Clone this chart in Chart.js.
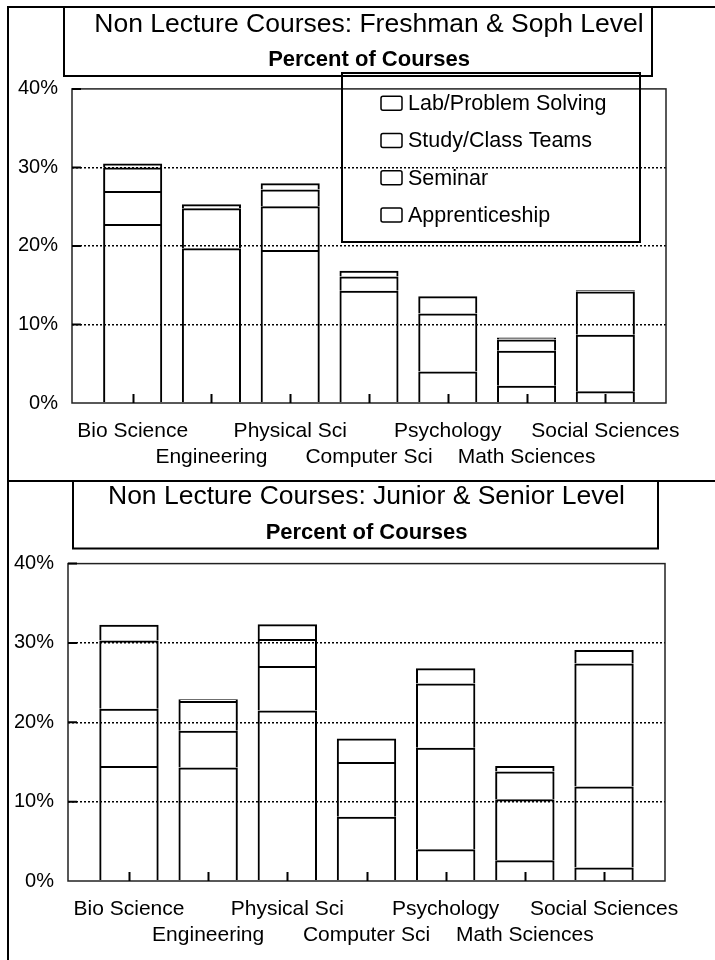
<!DOCTYPE html>
<html>
<head>
<meta charset="utf-8">
<title>Non Lecture Courses</title>
<script src="https://cdn.jsdelivr.net/npm/chart.js@4.4.1/dist/chart.umd.min.js"></script>
<style>
  html, body { margin: 0; padding: 0; background: #fff; }
  .panel { position: absolute; left: 0; width: 715px; height: 480px; }
  #upper { top: 0; }
  #lower { top: 480px; }
</style>
</head>
<body>
<div class="panel" id="upper"><canvas id="lowerDivChart"></canvas></div>
<div class="panel" id="lower"><canvas id="upperDivChart"></canvas></div>
<script>
const categories = ['Bio Science', 'Engineering', 'Physical Sci', 'Computer Sci', 'Psychology', 'Math Sciences', 'Social Sciences'];
const seriesNames = ['Lab/Problem Solving', 'Study/Class Teams', 'Seminar', 'Apprenticeship'];

// freshman & sophomore level, percent of courses
const fsLab        = [22.8, 19.7, 19.5, 14.3, 4.0, 2.2, 1.5];
const fsStudy      = [4.2, 5.1, 5.55, 1.8, 7.4, 4.45, 7.2];
const fsSeminar    = [3.0, 0.5, 2.15, 0.75, 2.2, 1.45, 5.5];
const fsApprentice = [0.5, 0.0, 0.8, 0.0, 0.0, 0.25, 0.15];

// junior & senior level, percent of courses
const jsLab        = [14.5, 14.3, 21.5, 8.1, 4.0, 2.6, 1.7];
const jsStudy      = [7.2, 4.65, 5.6, 6.9, 12.8, 7.7, 10.2];
const jsSeminar    = [8.6, 3.75, 3.4, 2.95, 8.1, 3.5, 15.5];
const jsApprentice = [2.0, 0.2, 1.85, 0.0, 1.9, 0.7, 1.7];

const FONT = "'Liberation Sans', Arial, Helvetica, sans-serif";

function makeDatasets(series) {
  return series.map((vals, k) => ({
    label: seriesNames[k],
    data: vals.map((v, i) => ({ x: i, y: v })),
    backgroundColor: 'rgba(0,0,0,0)',
    borderColor: '#000',
    borderWidth: 2,
    barPercentage: 0.75,
    categoryPercentage: 1
  }));
}

// boxes, plot frame, inside tick marks and the legend
const decorations = {
  id: 'decorations',
  afterDatasetsDraw(chart, args, opts) {
    const { ctx, chartArea: a, scales: { x, y } } = chart;
    ctx.save();
    ctx.strokeStyle = '#222';
    ctx.lineWidth = 1.5;
    ctx.strokeRect(a.left, a.top, a.right - a.left, a.bottom - a.top);

    ctx.strokeStyle = '#000';
    ctx.lineWidth = 2;
    ctx.beginPath();
    categories.forEach((c, i) => {
      const px = Math.round(x.getPixelForValue(i)) + 0.5;
      ctx.moveTo(px, a.bottom);
      ctx.lineTo(px, a.bottom - 9);
    });
    y.ticks.forEach(t => {
      if (t.value <= 0) return;
      const py = y.getPixelForValue(t.value);
      ctx.moveTo(a.left, py);
      ctx.lineTo(a.left + 9, py);
    });
    ctx.stroke();
    ctx.restore();
  },
  afterDraw(chart, args, opts) {
    const { ctx } = chart;
    const w = chart.width, h = chart.height;
    ctx.save();
    ctx.strokeStyle = '#000';
    ctx.lineWidth = 2;

    // outer frame (left and top edges)
    ctx.beginPath();
    ctx.moveTo(opts.frameLeft, h);
    ctx.lineTo(opts.frameLeft, opts.frameTop);
    ctx.lineTo(w, opts.frameTop);
    ctx.stroke();

    // title box
    const tb = opts.titleBox;
    ctx.strokeRect(tb[0], tb[1], tb[2] - tb[0], tb[3] - tb[1]);

    // legend
    if (opts.legendBox) {
      const lb = opts.legendBox;
      ctx.strokeRect(lb[0], lb[1], lb[2] - lb[0], lb[3] - lb[1]);
      ctx.font = '21.5px ' + FONT;
      ctx.fillStyle = '#000';
      ctx.textBaseline = 'middle';
      ctx.textAlign = 'left';
      chart.data.datasets.forEach((ds, k) => {
        const cy = opts.legendRow0 + k * opts.legendStep;
        ctx.lineWidth = 1.5;
        ctx.beginPath();
        ctx.roundRect(opts.swatchX, cy - 7, 21, 14, 2);
        ctx.stroke();
        ctx.fillText(ds.label, opts.swatchX + 27, cy + 1);
      });
    }
    ctx.restore();
  }
};

function makeChart(canvasId, series, title, cfg) {
  return new Chart(document.getElementById(canvasId), {
    type: 'bar',
    data: { datasets: makeDatasets(series) },
    plugins: [decorations],
    options: {
      responsive: true,
      maintainAspectRatio: false,
      animation: false,
      layout: { padding: { left: 0, right: cfg.padRight, top: 0, bottom: 0 } },
      plugins: {
        legend: { display: false },
        tooltip: { enabled: false },
        title: {
          display: true,
          text: title,
          fullSize: false,
          color: '#000',
          font: { family: FONT, size: 26.5, weight: 'normal' },
          padding: cfg.titlePad
        },
        subtitle: {
          display: true,
          text: 'Percent of Courses',
          fullSize: false,
          color: '#000',
          font: { family: FONT, size: 22, weight: 'bold' },
          padding: cfg.subPad
        },
        decorations: cfg.deco
      },
      scales: {
        x: {
          type: 'linear',
          stacked: true,
          offset: false,
          min: -0.77,
          max: 6.77,
          grid: { display: false, drawTicks: false, tickLength: 0, offset: false },
          border: { display: false },
          // one tick per category
          afterBuildTicks: scale => {
            scale.ticks = categories.map((c, i) => ({ value: i }));
          },
          afterFit: scale => { scale.height = cfg.xHeight; },
          ticks: {
            autoSkip: false,
            maxRotation: 0,
            padding: 15,
            color: '#000',
            font: { family: FONT, size: 21, lineHeight: 1.26 },
            callback: value => {
              const name = categories[value];
              if (name === undefined) return '';
              return value % 2 ? ['', name] : name;
            }
          }
        },
        y: {
          stacked: true,
          min: 0,
          max: 40,
          afterFit: scale => { scale.width = cfg.yWidth; },
          grid: {
            color: c => (c.tick.value === 0 || c.tick.value === 40) ? 'rgba(0,0,0,0)' : '#000',
            lineWidth: 1.5,
            drawTicks: false,
            tickLength: 0
          },
          border: { display: false, dash: [2, 2] },
          ticks: {
            stepSize: 10,
            padding: 14,
            color: '#000',
            font: { family: FONT, size: 20 },
            callback: v => v + '%'
          }
        }
      }
    }
  });
}

makeChart('lowerDivChart', [fsLab, fsStudy, fsSeminar, fsApprentice],
  'Non Lecture Courses: Freshman & Soph Level', {
    padRight: 49,
    yWidth: 72,
    xHeight: 77,
    titlePad: { top: 8.6, bottom: 3 },
    subPad: { top: 3.5, bottom: 15.6 },
    deco: {
      frameLeft: 8, frameTop: 7,
      titleBox: [64, 7, 652, 76],
      legendBox: [342, 73, 640, 242],
      swatchX: 381, legendRow0: 103.3, legendStep: 37.2
    }
  });

makeChart('upperDivChart', [jsLab, jsStudy, jsSeminar, jsApprentice],
  'Non Lecture Courses: Junior & Senior Level', {
    padRight: 50,
    yWidth: 68,
    xHeight: 79,
    titlePad: { top: 0.3, bottom: 3 },
    subPad: { top: 4.8, bottom: 17.3 },
    deco: {
      frameLeft: 8, frameTop: 1,
      titleBox: [73, 1, 658, 68.5],
      legendBox: null
    }
  });
</script>
</body>
</html>
